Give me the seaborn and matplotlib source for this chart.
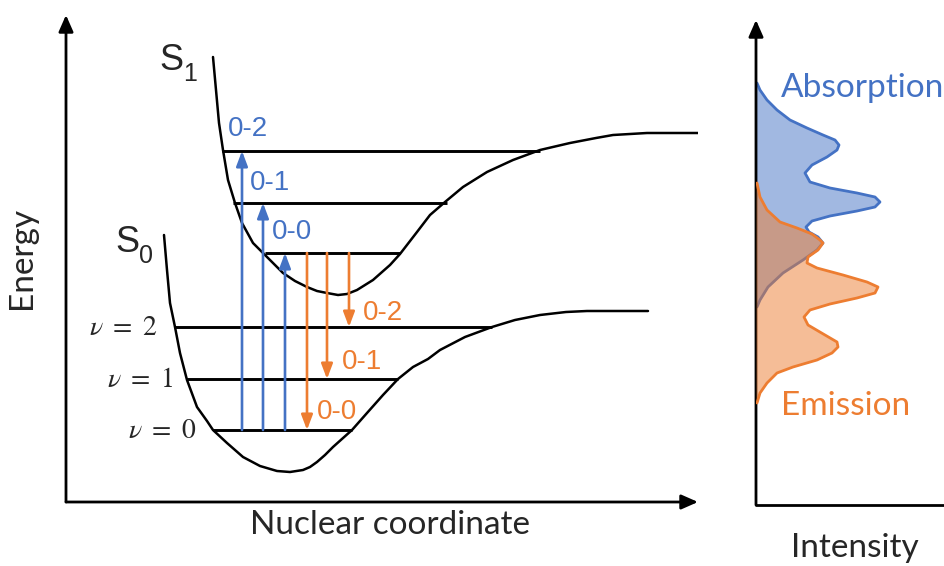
import numpy as np
import pandas as pd
import matplotlib.pyplot as plt
import seaborn as sns

# Curvas de potencial (coordenada nuclear, energía)
s1_q = [147, 150, 153, 157, 162, 169, 176, 187, 199, 208, 217, 229, 241, 251, 261,
        272, 281, 291, 307, 324, 334, 351, 364, 379, 397, 421, 447, 474, 504, 530,
        547, 581, 632]
s1_e = [445, 412, 379, 352, 322, 299, 279, 259, 247, 238, 229, 221, 215, 211, 209,
        207, 208, 212, 222, 237, 248, 270, 287, 300, 315, 330, 342, 352, 359, 364,
        367, 369, 369]
s0_q = [98, 101, 104, 109, 114, 121, 131, 141, 147, 161, 177, 194, 211, 224, 237,
        244, 251, 259, 267, 286, 301, 317, 332, 347, 362, 374, 399, 426, 449, 474,
        500, 521, 550, 582]
s0_e = [267, 232, 199, 175, 149, 122, 95, 81, 72, 59, 45, 36, 31, 30, 32,
        35, 40, 47, 55, 72, 89, 107, 123, 135, 143, 152, 165, 175, 182, 187,
        190, 191, 191, 191]

# Niveles vibracionales
s1_levels = [249, 299, 351]
s1_left = [199, 167, 156]
s1_right = [334, 381, 474]
s0_levels = [72, 123, 175]
s0_left = [147, 120, 109]
s0_right = [286, 332, 426]
nu_labels = [r"$\nu\ =\ 0$", r"$\nu\ =\ 1$", r"$\nu\ =\ 2$"]

# Transiciones
trans_labels = ["0-0", "0-1", "0-2"]
abs_q = [219, 197, 176]
em_q = [241, 261, 283]

# Espectros (intensidad, energía)
abs_int = [1, 4, 11, 21, 34, 51, 67, 79, 83, 81, 71, 56, 49, 54, 74, 101, 119, 124,
           119, 101, 74, 56, 50, 53, 62, 67, 61, 47, 27, 12, 4, 1]
abs_e = [422, 415, 405, 395, 385, 377, 370, 365, 360, 355, 348, 340, 332, 323, 317,
         312, 308, 303, 298, 294, 289, 284, 278, 273, 268, 262, 255, 245, 232, 218,
         205, 198]
em_int = [1, 4, 11, 24, 41, 56, 64, 67, 62, 52, 51, 61, 87, 111, 122, 119, 101, 74,
          54, 48, 52, 69, 81, 82, 76, 61, 37, 21, 11, 4, 1]
em_e = [322, 308, 295, 283, 277, 271, 265, 262, 255, 248, 242, 237, 230, 223, 218,
        212, 207, 201, 195, 188, 180, 170, 163, 158, 152, 145, 138, 132, 122, 112,
        102]

sns.set_style("white")
plt.rcParams["font.family"] = ["Liberation Sans", "DejaVu Sans"]

BLUE = "#4472C4"
ORANGE = "#ED7D31"
CAL = ["Lato", "DejaVu Sans"]

fig = plt.figure(figsize=(9.44, 5.66), dpi=100)
ax = fig.add_axes([66 / 944, 64 / 566, 632 / 944, 487 / 566])
ax2 = fig.add_axes([756 / 944, 61 / 566, 188 / 944, 485 / 566])

for a in (ax, ax2):
    a.set_axis_off()

ax.set_xlim(0, 632)
ax.set_ylim(0, 487)
ax2.set_xlim(0, 188)
ax2.set_ylim(0, 485)

# Ejes con flecha
ax_arrow = dict(arrowstyle="-|>,head_length=0.5,head_width=0.22", color="black",
                lw=2, mutation_scale=20, shrinkA=0, shrinkB=0)
ax.annotate("", xy=(632, 0), xytext=(0, 0), arrowprops=ax_arrow, annotation_clip=False)
ax.annotate("", xy=(0, 487), xytext=(0, 0), arrowprops=ax_arrow, annotation_clip=False)
ax2.annotate("", xy=(0, 485), xytext=(0, 0), arrowprops=ax_arrow, annotation_clip=False)
ax2.plot([0, 188], [0, 0], color="black", lw=2, clip_on=False)

# Curvas de potencial
curves = pd.DataFrame({"q": s1_q + s0_q, "E": s1_e + s0_e,
                       "estado": ["S1"] * len(s1_q) + ["S0"] * len(s0_q)})
sns.lineplot(data=curves, x="q", y="E", units="estado", estimator=None, sort=False,
             color="black", lw=1.8, ax=ax, legend=False)

ax.hlines(s1_levels, s1_left, s1_right, color="black", lw=2.1)
ax.hlines(s0_levels, s0_left, s0_right, color="black", lw=2.1)

for lev, lab, right in zip(s0_levels, nu_labels, [131, 107, 92]):
    ax.text(right, lev - 1, lab, ha="right", va="center", fontsize=20,
            math_fontfamily="stix")

ax.text(105, 442, "S", fontsize=26, ha="center", va="center")
ax.text(124, 428, "1", fontsize=18, ha="center", va="center")
ax.text(61, 260, "S", fontsize=26, ha="center", va="center")
ax.text(80, 246, "0", fontsize=18, ha="center", va="center")

# Flechas de absorción y emisión
tr_arrow = "-|>,head_length=0.45,head_width=0.17"
for q, top in zip(abs_q, s1_levels):
    ax.annotate("", xy=(q, top), xytext=(q, s0_levels[0]),
                arrowprops=dict(arrowstyle=tr_arrow, color=BLUE, lw=1.9,
                                mutation_scale=20, shrinkA=0, shrinkB=0))
for q, bot in zip(em_q, s0_levels):
    ax.annotate("", xy=(q, bot), xytext=(q, s1_levels[0]),
                arrowprops=dict(arrowstyle=tr_arrow, color=ORANGE, lw=1.9,
                                mutation_scale=20, shrinkA=0, shrinkB=0))

for lab, (x, y) in zip(trans_labels, [(226, 270), (204, 319), (182, 373)]):
    ax.text(x, y, lab, color=BLUE, fontsize=20, ha="center", va="center")
for lab, (x, y) in zip(trans_labels, [(271, 90), (296, 140), (317, 189)]):
    ax.text(x, y, lab, color=ORANGE, fontsize=20, ha="center", va="center")

ax.text(324, -23, "Nuclear coordinate", fontsize=24, ha="center", va="center",
        family=CAL)
ax.text(-44, 244, "Energy", fontsize=24, ha="center", va="center", rotation=90,
        family=CAL)

# Espectros
ax2.fill_betweenx(abs_e, 0, abs_int, color=BLUE, alpha=0.5, lw=0, zorder=1)
sns.lineplot(x=abs_int, y=abs_e, sort=False, estimator=None, color=BLUE, lw=2,
             ax=ax2, zorder=2)
ax2.fill_betweenx(em_e, 0, em_int, color=ORANGE, alpha=0.5, lw=0, zorder=3)
sns.lineplot(x=em_int, y=em_e, sort=False, estimator=None, color=ORANGE, lw=2,
             ax=ax2, zorder=4)

ax2.text(25, 417, "Absorption", color=BLUE, fontsize=24, ha="left", va="center",
         family=CAL)
ax2.text(25, 99, "Emission", color=ORANGE, fontsize=24, ha="left", va="center",
         family=CAL)
ax2.text(99, -43, "Intensity", fontsize=24, ha="center", va="center", family=CAL)

fig.savefig("out.png", dpi=100)
